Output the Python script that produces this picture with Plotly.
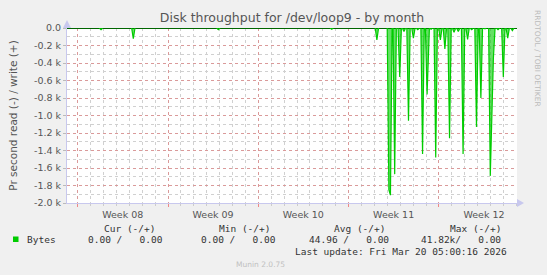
import plotly.graph_objects as go

# ---- data ----
# spike times in days from start of Week 08, read (negative) bytes/s
spike_days = [1.81, 4.31, 10.90, 19.69, 23.19, 24.12, 24.24, 24.57, 24.96, 25.29,
              25.64, 26.02, 26.36, 26.73, 27.08, 27.39, 27.75, 28.11, 28.46, 28.82,
              29.17, 29.50, 29.87, 30.22, 30.54, 30.91, 31.25, 31.57, 31.98, 32.22,
              32.58, 32.99, 33.33, 33.69]
spike_vals = [-20, -123, -20, -15, -135, -1850, -1910, -1670, -560, -40,
              -1060, -115, -20, -1440, -760, -15, -1480, -135, -240, -1260,
              -50, -40, -1440, -130, -20, -1130, -800, -10, -1690, -345,
              -20, -560, -115, -30]
x_start, x_end = -0.83, 34.05
week_starts = [0, 7, 14, 21, 28]
week_labels = ["Week 08", "Week 09", "Week 10", "Week 11", "Week 12"]
y_ticks = [0, -200, -400, -600, -800, -1000, -1200, -1400, -1600, -1800, -2000]
y_labels = ["0.0", "-0.2 k", "-0.4 k", "-0.6 k", "-0.8 k", "-1.0 k",
            "-1.2 k", "-1.4 k", "-1.6 k", "-1.8 k", "-2.0 k"]
legend_heads = ["Cur (-/+)", "Min (-/+)", "Avg (-/+)", "Max (-/+)"]
legend_vals = ["0.00 /   0.00", "0.00 /   0.00", "44.96 /   0.00", "41.82k/   0.00"]
series_name = "Bytes"
last_update = "Last update: Fri Mar 20 05:00:16 2026"

# ---- build series (sample half-width = rrd step) ----
w = 0.13
xs, ys = [x_start], [0]
for i, (t, v) in enumerate(zip(spike_days, spike_vals)):
    if i == 0 or t - spike_days[i - 1] > 2 * w:
        xs.append(t - w); ys.append(0)
    xs.append(t); ys.append(v)
    if i == len(spike_days) - 1 or spike_days[i + 1] - t > 2 * w:
        xs.append(t + w); ys.append(0)
xs.append(x_end); ys.append(0)

W, H = 547, 275
L, R, T, B = 67, 30, 28, 72
pw, ph = W - L - R, H - T - B

def px(x):
    return (x - L) / pw

def py(y):
    return (H - B - y) / ph

fig = go.Figure()
fig.add_trace(go.Scatter(x=xs, y=ys, mode="lines", fill="tozeroy",
                         fillcolor="rgba(0,204,0,0.6)",
                         line=dict(color="#00cc00", width=1.2), showlegend=False,
                         hoverinfo="skip"))

sans = "DejaVu Sans"
mono = "DejaVu Sans Mono"
grey = "#555555"

fig.update_layout(
    width=W, height=H, margin=dict(l=L, r=R, t=T, b=B),
    paper_bgcolor="#f0f0f0", plot_bgcolor="#ffffff",
    font=dict(family=sans, color=grey, size=10),
    title=dict(text="Disk throughput for /dev/loop9 - by month", x=0.5, xref="paper",
               xanchor="center", y=1 - 18 / H, yanchor="middle",
               font=dict(family=sans, size=12.5, color="#555555")),
    showlegend=False,
)
fig.update_xaxes(
    range=[x_start, x_end], tickmode="array", tickvals=week_starts, ticktext=week_labels,
    ticklabelshift=45, ticks="outside", ticklen=3, tickcolor="#ee8888",
    showgrid=True, gridcolor="rgba(225,110,110,0.55)", griddash="dot", gridwidth=1,
    showline=True, linecolor="#c8c8ee", linewidth=1, zeroline=False,
    tickfont=dict(family=sans, size=9.5, color=grey),
    minor=dict(tick0=0, dtick=1, showgrid=True, gridcolor="#d0d0d0", griddash="dot",
               ticks="outside", ticklen=2, tickcolor="#cccccc"),
)
fig.update_yaxes(
    range=[-2000, 0], tickmode="array", tickvals=y_ticks, ticktext=y_labels,
    ticks="outside", ticklen=3, tickcolor="#bbbbbb",
    showgrid=True, gridcolor="rgba(225,110,110,0.55)", griddash="dot",
    showline=True, linecolor="#c8c8ee", linewidth=1,
    zeroline=True, zerolinecolor="#000000", zerolinewidth=1,
    tickfont=dict(family=sans, size=9.5, color=grey),
    minor=dict(dtick=100, showgrid=True, gridcolor="#d0d0d0", griddash="dot"),
    title=dict(text="Pr second read (-) / write (+)", standoff=14,
               font=dict(family=sans, size=10.5, color=grey)),
)

shapes = []
# axis arrows
shapes.append(dict(type="path", xref="paper", yref="paper",
                   path=f"M {px(63)} {py(28)} L {px(71)} {py(28)} L {px(67)} {py(20)} Z",
                   fillcolor="#c8c8ee", line=dict(width=0)))
shapes.append(dict(type="path", xref="paper", yref="paper",
                   path=f"M {px(517)} {py(199)} L {px(517)} {py(207)} L {px(524)} {py(203)} Z",
                   fillcolor="#c8c8ee", line=dict(width=0)))
# legend swatch
shapes.append(dict(type="rect", xref="paper", yref="paper",
                   x0=px(13), x1=px(18.5), y0=py(242), y1=py(236.5),
                   fillcolor="#00cc00", line=dict(width=0)))
fig.update_layout(shapes=shapes)

ann = []
def text(x, y, s, anchor="left", size=9.5, color="#333333", family=mono, angle=0):
    ann.append(dict(x=px(x), y=py(y), xref="paper", yref="paper", text=s,
                    showarrow=False, xanchor=anchor, yanchor="middle",
                    textangle=angle, font=dict(family=family, size=size, color=color)))

head_right = [157, 272, 387, 503]
val_right = [165, 278, 391, 503]
for hx, h in zip(head_right, legend_heads):
    text(hx, 228, h.replace(" ", "&nbsp;"), anchor="right")
text(25, 239.5, series_name)
for vx, v in zip(val_right, legend_vals):
    text(vx, 239.5, v.replace(" ", "&nbsp;"), anchor="right")
text(509, 251.5, last_update.replace(" ", "&nbsp;"), anchor="right")
text(260.5, 264.5, "Munin 2.0.75", anchor="center", size=7.5, color="#c0c0c0", family=sans)
text(537, 58, "RRDTOOL / TOBI OETIKER", anchor="center", size=7.5, color="#bbbbbb",
     family=sans, angle=90)
fig.update_layout(annotations=ann)

fig.write_html("out.html")
